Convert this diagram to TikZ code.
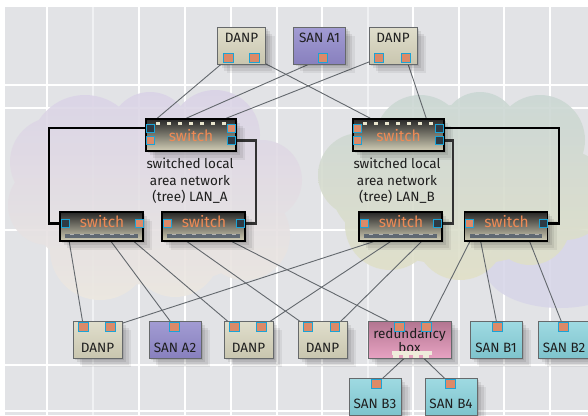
\documentclass[tikz,border=0pt]{standalone}
\usepackage{fontspec}
\setmainfont{Fira Sans}
\usetikzlibrary{calc}
\pgfdeclarelayer{grid}\pgfdeclarelayer{cloud}\pgfdeclarelayer{wires}
\pgfsetlayers{grid,cloud,wires,main}
\definecolor{bgc}{HTML}{E2E3E6}
\definecolor{wire}{HTML}{63686D}
\definecolor{portO}{HTML}{DC8A68}
\definecolor{portB}{HTML}{1BA3D6}
\definecolor{portD}{HTML}{2E3A44}
\definecolor{swtxt}{HTML}{EE8A55}
\definecolor{boxline}{HTML}{66696B}
\definecolor{danpT}{HTML}{E0DECC}
\definecolor{danpB}{HTML}{C9C6AF}
\definecolor{swB}{HTML}{D2CEB6}
\definecolor{sanAT}{HTML}{A29CD3}
\definecolor{sanAB}{HTML}{8880BE}
\definecolor{sanBT}{HTML}{9FDAE2}
\definecolor{sanBB}{HTML}{7EC4CD}
\definecolor{redT}{HTML}{B27590}
\definecolor{redB}{HTML}{E7A2C2}
\definecolor{tooth}{HTML}{E8E4CC}
\definecolor{barc}{HTML}{5F6872}
\definecolor{txt}{HTML}{1E1E1E}
\definecolor{lavhaze}{HTML}{D8D6E8}
\definecolor{lcT}{HTML}{DAD3E6}
\definecolor{lcM}{HTML}{E7E1F1}
\definecolor{lcB}{HTML}{ECE8E0}
\definecolor{rcT}{HTML}{CAD7D4}
\definecolor{rcM}{HTML}{E9FBFB}
\definecolor{rcB}{HTML}{E1E0C8}
\tikzset{
  shad/.style={
    preaction={fill=black,opacity=0.06,transform canvas={shift={(9pt,-9pt)}}},
    preaction={fill=black,opacity=0.07,transform canvas={shift={(6.5pt,-6.5pt)}}},
    preaction={fill=black,opacity=0.08,transform canvas={shift={(4pt,-4pt)}}},
    preaction={fill=black,opacity=0.09,transform canvas={shift={(2pt,-2pt)}}}},
  boxbase/.style={draw=boxline,line width=1pt,minimum height=37pt,inner sep=0pt,shad},
  danp/.style={boxbase,minimum width=48pt,top color=danpT,bottom color=danpB},
  sana/.style={boxbase,minimum width=52pt,top color=sanAT,bottom color=sanAB},
  sanb/.style={boxbase,minimum width=52pt,top color=sanBT,bottom color=sanBB},
  redbox/.style={boxbase,minimum width=83pt,top color=redT,bottom color=redB},
  swbig/.style={draw=black,line width=1.5pt,minimum width=90pt,minimum height=32pt,inner sep=0pt,top color=black!85,bottom color=swB,shad},
  swsmall/.style={swbig,minimum width=83pt,minimum height=29pt},
  port/.style={draw=portB,line width=1pt,fill=portO,minimum size=9.5pt,inner sep=0pt},
  sport/.style={port,minimum size=8pt},
  dport/.style={sport,fill=portD},
  lbl/.style={font=\fontsize{13.5}{15}\selectfont,text=txt,inner sep=0pt},
  swl/.style={font=\fontsize{15.5}{15}\selectfont,text=swtxt,inner sep=0pt},
  gridl/.style={white,line width=2.6pt},
  wr/.style={wire,line width=0.9pt},
  loop/.style={black,line width=2.8pt},
  loopg/.style={black!80,line width=2.8pt},
  cloudop/.style={fill opacity=0.9},
}
\begin{document}
\begin{tikzpicture}[x=1pt,y=-1pt]
\useasboundingbox (0,0) rectangle (588,415);
% background grid
\begin{pgfonlayer}{grid}
\fill[white] (0,0) rectangle (588,415);
\fill[bgc] (5,7) rectangle (588,415);
\foreach \x in {47,139,185,231,277,322,413,459,504,550} \draw[gridl] (\x,7) -- (\x,415);
\foreach \x in {93,368} \draw[white!50!bgc,line width=2pt] (\x,7) -- (\x,415);
\foreach \y in {85,108,230,365,411} \draw[gridl] (5,\y) -- (588,\y);
\end{pgfonlayer}
% clouds
\begin{pgfonlayer}{cloud}
\fill[lavhaze,cloudop] (560,268) ellipse [x radius=75,y radius=40];
\shade[cloudop,top color=lcT,middle color=lcM,bottom color=lcB]
  (85,150) circle [radius=55] (150,132) circle [radius=40] (215,135) circle [radius=45]
  (262,180) circle [radius=40] (48,205) circle [radius=40] (55,162) circle [radius=45]
  (100,250) circle [radius=50] (175,252) circle [radius=45] (245,235) circle [radius=45]
  (155,200) ellipse [x radius=130,y radius=85];
\shade[cloudop,top color=rcT,middle color=rcM,bottom color=rcB]
  (360,175) circle [radius=42] (420,140) circle [radius=45] (480,130) circle [radius=38]
  (540,140) circle [radius=45] (565,195) circle [radius=45] (390,225) circle [radius=45]
  (460,235) circle [radius=45] (530,225) circle [radius=40]
  (460,185) ellipse [x radius=130,y radius=80];
\end{pgfonlayer}

% ---------- top boxes
\node[danp] (tDL) at (241.5,45.5) {};
\node[lbl] (tDLt) at (241.5,38) {DANP};
\node[port] (tDLp1) at (228.5,58) {};
\node[port] (tDLp2) at (254.5,58) {};
\node[sana] (tSA) at (319.5,45.5) {};
\node[lbl] (tSAt) at (319.5,38) {SAN A1};
\node[port] (tSAp) at (323,58) {};
\node[danp] (tDR) at (393,45.5) {};
\node[lbl] (tDRt) at (393,38) {DANP};
\node[port] (tDRp1) at (379,58) {};
\node[port] (tDRp2) at (406,58) {};

% ---------- top switches
\node[swbig] (sA) at (191,135) {};
\node[swbig,minimum width=91pt] (sB) at (398.5,135) {};
\foreach \s in {sA,sB}{
  \foreach \i in {0,...,6} \fill[tooth] ($(\s.north west)+(10.5+11*\i,3.5)$) rectangle ++(4.5,3.5);
}
\node[swl] (sAt) at (191,136) {switch};
\node[swl] (sBt) at (398.5,136) {switch};
\node[dport] (sAp1) at (150.5,128) {};
\node[sport] (sAp2) at (150.5,140.5) {};
\node[sport] (sAp3) at (231.5,128) {};
\node[dport] (sAp4) at (231.5,140.5) {};
\node[sport] (sBp1) at (357.5,128) {};
\node[sport] (sBp2) at (357.5,140.5) {};
\node[dport] (sBp3) at (439.5,128) {};
\node[dport] (sBp4) at (439.5,140.5) {};
\node[lbl,align=center,font=\fontsize{13.5}{16.5}\selectfont] (lanA) at (190,181) {switched local\\area network\\(tree) LAN\_A};
\node[lbl,align=center,font=\fontsize{13.5}{16.5}\selectfont] (lanB) at (397,181) {switched local\\area network\\(tree) LAN\_B};

% ---------- bottom switches
\node[swsmall] (sA1) at (101.5,226.5) {};
\node[swsmall] (sA2) at (203.5,226.5) {};
\node[swsmall] (sB1) at (400.5,226.5) {};
\node[swsmall] (sB2) at (506,226.5) {};
\foreach \s in {sA1,sA2,sB1,sB2}{
  \fill[barc] ($(\s.south west)+(6,-8)$) rectangle ($(\s.south east)+(-6,-4)$);
  \foreach \i in {0,...,6} \fill[black!30] ($(\s.south west)+(11+10*\i,-8)$) rectangle ++(4,1.6);
}
\node[swl] (sA1t) at (102,222) {switch};
\node[swl] (sA2t) at (204,222) {switch};
\node[swl] (sB1t) at (401,222) {switch};
\node[swl] (sB2t) at (506.5,222) {switch};
\node[dport] (sA1l) at (65,223.5) {};
\node[sport] (sA1r) at (139,223.5) {};
\node[sport] (sA2l) at (167,223.5) {};
\node[dport] (sA2r) at (240.5,223.5) {};
\node[sport] (sB1l) at (364,223.5) {};
\node[dport] (sB1r) at (437,223.5) {};
\node[sport] (sB2l) at (469.5,223.5) {};
\node[dport] (sB2r) at (543,223.5) {};

% ---------- bottom boxes
\node[danp,minimum width=49pt] (bD1) at (97.5,339.5) {};
\node[lbl] (bD1t) at (97.5,348) {DANP};
\node[port] (bD1p1) at (83.5,327) {};
\node[port] (bD1p2) at (110.5,327) {};
\node[sana] (bSA) at (175,339.5) {};
\node[lbl] (bSAt) at (175,348) {SAN A2};
\node[port] (bSAp) at (174.5,327) {};
\node[danp,minimum width=49pt] (bD3) at (248.5,339.5) {};
\node[lbl] (bD3t) at (248.5,348) {DANP};
\node[port] (bD3p1) at (234.5,327) {};
\node[port] (bD3p2) at (261.5,327) {};
\node[danp,minimum width=49pt] (bD4) at (322.5,339.5) {};
\node[lbl] (bD4t) at (322.5,348) {DANP};
\node[port] (bD4p1) at (308,327) {};
\node[port] (bD4p2) at (335,327) {};
\node[redbox] (rb) at (409.5,339.5) {};
\node[lbl,align=center,font=\fontsize{13.5}{10}\selectfont] (rbt) at (409.5,341) {redundancy\\box};
\fill[tooth!70!white] (392,351) rectangle (432,354.5);
\foreach \i in {0,...,3} \fill[tooth!70!white] (393+10*\i,354.5) rectangle ++(6,3.5);
\node[port] (rbp1) at (399.5,327) {};
\node[port] (rbp2) at (426.5,327) {};
\node[sanb] (bB1) at (496,339.5) {};
\node[lbl] (bB1t) at (496,348) {SAN B1};
\node[port] (bB1p) at (497.5,327) {};
\node[sanb] (bB2) at (564,339.5) {};
\node[lbl] (bB2t) at (564,348) {SAN B2};
\node[port] (bB2p) at (563.5,327) {};
\node[sanb] (bB3) at (375,396.5) {};
\node[lbl] (bB3t) at (375,404) {SAN B3};
\node[port] (bB3p) at (376.5,384) {};
\node[sanb] (bB4) at (451,396.5) {};
\node[lbl] (bB4t) at (451,404) {SAN B4};
\node[port] (bB4p) at (450.5,384) {};

% attachment points on switch edges
\coordinate (aT1) at ($(sA.north west)+(12,0)$);
\coordinate (aT2) at ($(sA.north west)+(41,0)$);
\coordinate (aT3) at ($(sA.north west)+(81,0)$);
\coordinate (bT1) at ($(sB.north west)+(18,0)$);
\coordinate (bT2) at ($(sB.north west)+(74,0)$);
\coordinate (a1B1) at ($(sA1.south west)+(10,0)$);
\coordinate (a1B2) at ($(sA1.south west)+(52,0)$);
\coordinate (a1B3) at ($(sA1.south west)+(75,0)$);
\coordinate (a2B1) at ($(sA2.south west)+(26,0)$);
\coordinate (a2B2) at ($(sA2.south west)+(71,0)$);
\coordinate (b1B1) at ($(sB1.south west)+(15,0)$);
\coordinate (b1B2) at ($(sB1.south west)+(32,0)$);
\coordinate (b1B3) at ($(sB1.south west)+(63,0)$);
\coordinate (b2B1) at ($(sB2.south west)+(6,0)$);
\coordinate (b2B2) at ($(sB2.south west)+(17,0)$);
\coordinate (b2B3) at ($(sB2.south west)+(66,0)$);
\coordinate (rbB1) at ($(rb.south)+(-5.5,0)$);
\coordinate (rbB2) at ($(rb.south)+(14.5,0)$);
\coordinate (lA1) at (49,128);
\coordinate (lA2) at (49,223.5);
\coordinate (lA3) at (256,140.5);
\coordinate (lA4) at (256,223.5);
\coordinate (lB1) at (559,128);
\coordinate (lB2) at (559,223.5);
\coordinate (lB3) at (453,140.5);
\coordinate (lB4) at (453,223.5);

\begin{pgfonlayer}{wires}
\draw[wr] (tDLp1) -- (aT1);
\draw[wr] (tSAp) -- (aT2);
\draw[wr] (tDRp1) -- (aT3);
\draw[wr] (tDLp2) -- (bT1);
\draw[wr] (tDRp2) -- (bT2);
\draw[wr] (a1B1) -- (bD1p1);
\draw[wr] (a1B2) -- (bSAp);
\draw[wr] (a1B3) -- (bD3p1);
\draw[wr] (a2B1) -- (bD4p1);
\draw[wr] (a2B2) -- (rbp1);
\draw[wr] (b1B1) -- (bD1p2);
\draw[wr] (b1B2) -- (bD3p2);
\draw[wr] (b1B3) -- (bD4p2);
\draw[wr] (b2B1) -- (rbp2);
\draw[wr] (b2B2) -- (bB1p);
\draw[wr] (b2B3) -- (bB2p);
\draw[wr] (rbB1) -- (bB3p);
\draw[wr] (rbB2) -- (bB4p);
\draw[loop] (sAp1.center) -- (lA1) -- (lA2) -- (sA1l.center);
\draw[loopg] (sAp4.center) -- (lA3) -- (lA4) -- (sA2r.center);
\draw[loop] (sBp3.center) -- (lB1) -- (lB2) -- (sB2r.center);
\draw[loopg] (sBp4.center) -- (lB3) -- (lB4) -- (sB1r.center);
\end{pgfonlayer}
\end{tikzpicture}
\end{document}
